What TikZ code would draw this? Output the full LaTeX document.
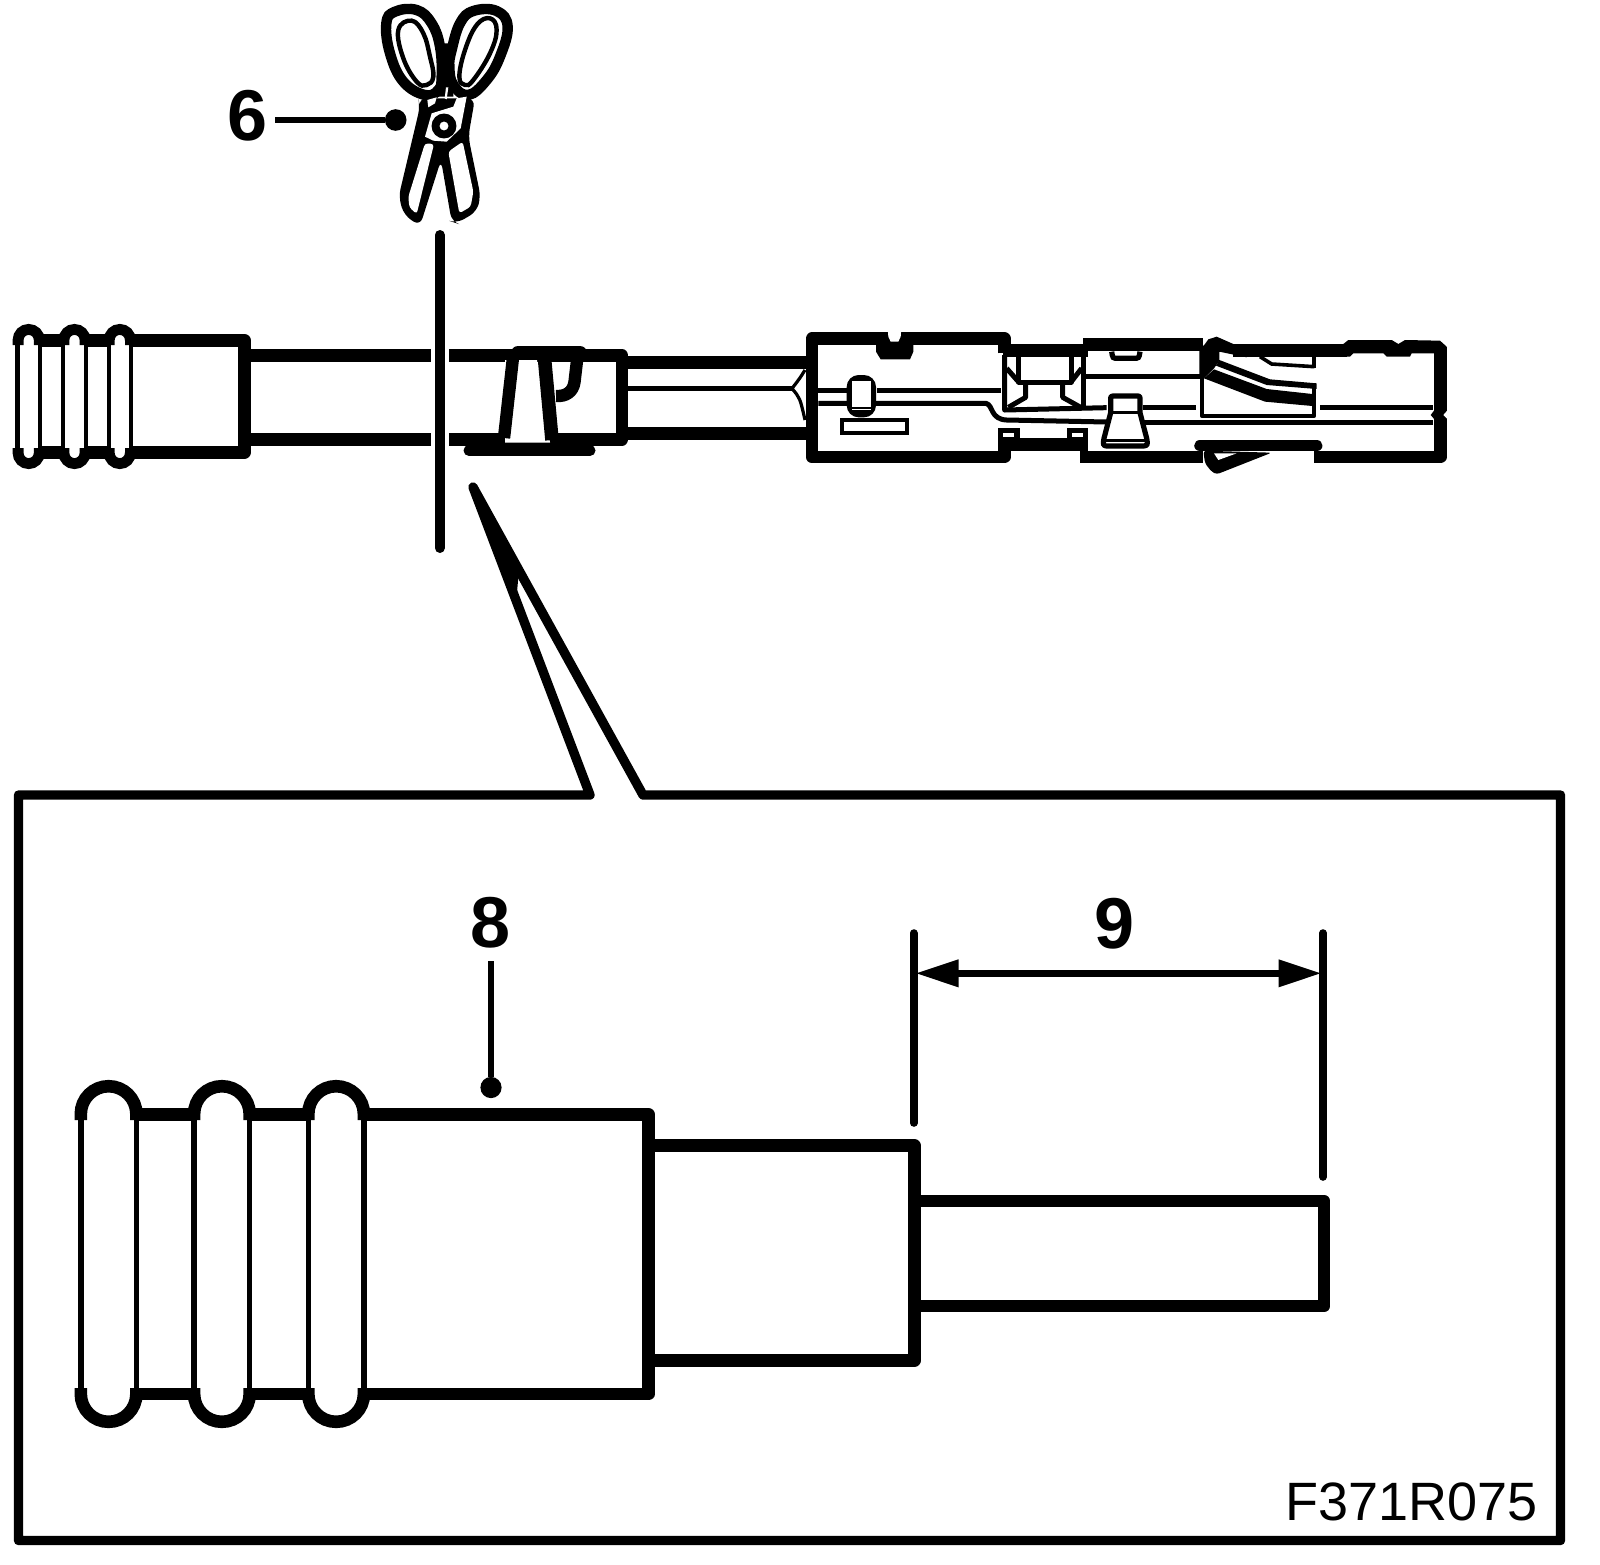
\documentclass[tikz,border=0pt]{standalone}
\usepackage{fontspec}
\setmainfont{Liberation Sans}
\usepackage{tikz}
\usetikzlibrary{arrows.meta}
\tikzset{
  heavyline/.style={line width=6.3pt,line join=round},
  frameline/.style={line width=4.7pt,line join=round},
  wireline/.style={line width=2.5pt,line join=round},
  hairline/.style={line width=2.1pt,line join=round},
  numlabel/.style={font=\fontsize{36}{36}\selectfont\bfseries,inner sep=0pt},
  leaderline/.style={line width=3.4pt},
  leaderdot/.style={circle,fill=black,inner sep=0pt,minimum size=10.8pt},
  dimline/.style={line width=3.8pt,line cap=round},
  dimarrow/.style={line width=3.4pt,{Triangle[length=21.5pt,width=13pt]}-{Triangle[length=21.5pt,width=13pt]}}
}
\begin{document}
\begin{tikzpicture}[x=0.5pt,y=-0.5pt]
\useasboundingbox (0,0) rectangle (1600,1564);
% frame with the wedge
\coordinate (wedgetip) at (473,487);
\draw[frameline] (wedgetip) -- (590,795) -- (18.5,795) -- (18.5,1540.5) -- (1560.5,1540.5) -- (1560.5,795) -- (643,795) -- cycle;
\fill[black] (wedgetip) -- (504.5,570) -- (517,592) -- (519,570) -- cycle;
% upper boot
\foreach \cx in {28.7,74.5,119.8} {
  \draw[line width=5.4pt] (\cx-10.6,345) -- (\cx-10.6,340) arc[start angle=180,end angle=360,radius=10.6] -- (\cx+10.6,345);
  \draw[line width=5.4pt] (\cx-10.6,448) -- (\cx-10.6,453) arc[start angle=180,end angle=0,radius=10.6] -- (\cx+10.6,448);
  \draw[line width=2.1pt] (\cx-11.2,340) -- (\cx-11.2,453);
  \draw[line width=2.1pt] (\cx+11.2,340) -- (\cx+11.2,453);
}
\draw[heavyline] (40,340.3) -- (64,340.3);
\draw[heavyline] (85,340.3) -- (109,340.3);
\draw[heavyline] (40,452.3) -- (64,452.3);
\draw[heavyline] (85,452.3) -- (109,452.3);
\draw[heavyline] (131,340.3) -- (244.5,340.3) -- (244.5,452.3) -- (131,452.3);
% cable left of the cut
\draw[heavyline] (250,355.5) -- (431,355.5);
\draw[heavyline] (250,439.3) -- (431,439.3);
% crimp right of the cut
\draw[heavyline] (449,355.5) -- (622,355.5) -- (622,439.3) -- (449,439.3);
\draw[line width=5.5pt,line cap=round] (469,450.5) -- (590,450.5);
\fill[white] (505,360) -- (537,360) -- (550,442.5) -- (505,442.5) -- cycle;
\draw[line width=6.2pt,line join=round] (513.5,353) -- (504,438);
\draw[line width=6.8pt,line join=round] (544,353) -- (552,440);
\draw[line width=7pt,line cap=round] (518,353) -- (580,353);
\draw[line width=6.2pt] (578,352) -- (574.5,382) .. controls (573,392) and (566,396.5) .. (556,396);
% cable to the terminal
\draw[heavyline] (628,362.5) -- (806,362.5);
\draw[heavyline] (628,433.3) -- (806,433.3);
\draw[wireline] (628,388.5) -- (792,388.5);
\draw[line width=1.6pt] (805,370) .. controls (800,378) .. (792,388.5) .. controls (800,398) .. (805,420);
% terminal, first sections
\begin{scope}[shift={(790,320)},scale=1/3]
  \draw[heavyline] (643,100) -- (643,56) -- (66,56) -- (66,411) -- (643,411) -- (643,365);
  \fill[black] (258,60) -- (370,60) -- (370,95) -- (360,118) -- (272,118) -- (258,95) -- cycle;
  \fill[white] (293,25) -- (334,25) -- (332,50) -- (325,65) -- (302,65) -- (295,50) -- cycle;
  \draw[heavyline] (640,91) -- (895,91);
  \draw[heavyline] (640,373) -- (895,373);
  \draw[wireline] (85,210) -- (170,210);
  \draw[wireline] (262,210) -- (632,210);
  \draw[wireline] (85,250) -- (588,250) .. controls (610,255) and (600,298) .. (650,300) -- (950,306);
  % latch window
  \fill[black,rounded corners=6pt] (170,165) rectangle (258,292);
  \fill[white] (186,182) rectangle (242,262);
  \fill[white] (186,267) rectangle (242,270);
  \draw[line width=2pt] (156,301) rectangle (350,339);
  % middle cage
  \draw[wireline] (644,105) -- (644,270) -- (950,263);
  \draw[wireline] (880,105) -- (880,270);
  \draw[wireline] (686,105) -- (686,186) -- (843,186) -- (843,105);
  \draw[wireline] (650,145) -- (686,186);
  \draw[wireline] (875,145) -- (843,186);
  \draw[wireline] (707,190) -- (707,232) -- (655,262);
  \draw[wireline] (818,190) -- (818,232) -- (872,262);
  % bottom tabs
  \fill[black] (625,323) rectangle (690,365);
  \fill[white] (640,338) rectangle (672,350);
  \fill[black] (830,323) rectangle (895,365);
  \fill[white] (845,338) rectangle (878,350);
\end{scope}
% terminal, contact end
\begin{scope}[shift={(1090,320)},scale=1/3]
  \draw[heavyline] (-20,73) -- (340,73);
  \draw[heavyline] (-30,411) -- (340,411);
  \draw[heavyline] (430,91) -- (770,91);
  \fill[black] (760,72) -- (775,60) -- (905,60) -- (925,72) -- (945,60) -- (1050,62) -- (1070,80) -- (1070,100) -- (965,100) -- (960,110) -- (890,110) -- (880,100) -- (790,100) -- (780,110) -- (760,110) -- cycle;
  \draw[heavyline] (1051,80) -- (1051,411) -- (672,411);
  \fill[black] (1035,268) -- (1022,285) -- (1035,300) -- cycle;
  \fill[white] (1075,268) -- (1060,285) -- (1075,300) -- cycle;
  \draw[line width=2.6pt] (65,95) .. controls (68,115) .. (85,115) -- (130,115) .. controls (147,115) .. (150,95);
  \draw[wireline] (-12,169) -- (330,169);
  \draw[wireline] (160,263) -- (318,263);
  \draw[wireline] (690,263) -- (1030,263);
  \draw[wireline] (160,306) -- (1030,306);
  % contact spring
  \draw[hairline] (335,92) -- (335,287) -- (673,287) -- (673,190);
  \draw[hairline] (673,110) -- (673,145);
  \fill[black] (345,72) -- (355,58) -- (380,50) -- (430,72) -- (430,92) -- (470,112) -- (388,95) -- (388,122) -- (372,145) -- (342,175) -- (328,170) -- (328,90) -- cycle;
  \fill[black] (388,120) -- (540,178) -- (680,190) -- (680,207) -- (530,195) -- (378,137) -- cycle;
  \fill[black] (372,148) -- (530,207) -- (667,222) -- (667,258) -- (525,245) -- (342,175) -- cycle;
  \draw[line width=1.8pt] (510,110) -- (545,132) -- (673,140);
  % pin
  \draw[line width=2.6pt,fill=white,line join=round] (62,278) -- (62,240) .. controls (62,228) .. (75,228) -- (138,228) .. controls (150,228) .. (150,240) -- (150,278) -- (170,355) .. controls (174,378) .. (150,378) -- (60,378) .. controls (38,378) .. (42,355) -- cycle;
  \draw[line width=1.6pt] (62,277) -- (150,277);
  \draw[line width=1.6pt] (45,362) -- (168,362);
  % latch below
  \fill[black,rounded corners=1.5pt] (340,392) -- (345,430) -- (365,455) -- (380,463) -- (545,398) -- cycle;
  \draw[line width=5.8pt,line cap=round] (330,377) -- (680,377);
  \fill[white] (372,400) -- (385,420) -- (440,400) -- cycle;
\end{scope}
% scissors
\begin{scope}[shift={(340,0)},scale=1/3]
  \fill[black,rounded corners=4pt] (235,295) -- (405,295) -- (385,410) -- (422,590) -- (410,635) -- (350,670) -- (335,665) -- (303,480) -- (240,678) -- (192,645) -- (176,590) -- (240,320) -- cycle;
  \fill[white,rounded corners=1.5pt] (255,430) -- (282,432) -- (230,642) -- (208,622) -- (205,590) -- cycle;
  \fill[white,rounded corners=1.5pt] (325,455) -- (368,425) -- (400,575) -- (392,620) -- (358,640) -- cycle;
  \draw[line width=5.2pt,fill=white] plot[smooth cycle,tension=0.7] coordinates {(255,285) (190,245) (150,160) (139,70) (165,35) (230,30) (275,70) (300,140) (305,230) (295,270)};
  \draw[line width=2.2pt,fill=white] plot[smooth cycle,tension=0.7] coordinates {(175,90) (215,62) (250,100) (270,170) (280,230) (260,255) (230,245) (190,175)};
  \draw[line width=5.2pt,fill=white] plot[smooth cycle,tension=0.7] coordinates {(335,150) (360,70) (400,33) (470,33) (503,80) (480,170) (440,240) (385,285) (340,255) (328,200)};
  \draw[line width=2.2pt,fill=white] plot[smooth cycle,tension=0.7] coordinates {(375,150) (410,75) (450,55) (470,90) (450,160) (400,240) (375,255) (358,230)};
  \fill[black] (300,130) -- (335,130) -- (340,290) -- (295,290) -- cycle;
  \fill[white] (262,300) -- (290,292) -- (285,310) -- (265,322) -- cycle;
  \fill[white] (318,262) -- (325,262) -- (320,298) -- (314,295) -- cycle;
  \fill[white] (255,410) -- (275,340) -- (340,320) -- (350,295) -- (380,290) -- (362,385) -- (320,425) -- (280,422) -- cycle;
  \draw[line width=3.4pt] (312,378) circle (27);
  \draw[line width=1pt] (312,378) circle (17);
\end{scope}
% cut line
\coordinate (cuttop) at (439.8,235);
\coordinate (cutbottom) at (439.8,548);
\draw[line width=5pt,line cap=round] (cuttop) -- (cutbottom);
% label 6
\node[numlabel] (labelsix) at (248,116) {6};
\node[leaderdot] (dotsix) at (395.7,120) {};
\draw[leaderline] (275,120) -- (dotsix);
% lower boot
\foreach \cx in {108.6,221.9,336.1} {
  \draw[line width=6.3pt] (\cx-27.8,1120) -- (\cx-27.8,1114) arc[start angle=180,end angle=360,radius=27.8] -- (\cx+27.8,1120);
  \draw[line width=6.3pt] (\cx-27.8,1388) -- (\cx-27.8,1394) arc[start angle=180,end angle=0,radius=27.8] -- (\cx+27.8,1388);
  \draw[line width=2.7pt] (\cx-27.8,1114) -- (\cx-27.8,1394);
  \draw[line width=2.7pt] (\cx+27.8,1114) -- (\cx+27.8,1394);
}
\draw[heavyline] (136,1114.3) -- (194,1114.3);
\draw[heavyline] (250,1114.3) -- (308,1114.3);
\draw[heavyline] (136,1394) -- (194,1394);
\draw[heavyline] (250,1394) -- (308,1394);
\draw[heavyline] (364,1114.3) -- (648.5,1114.3) -- (648.5,1394) -- (364,1394);
% jacket and wire
\draw[heavyline] (655,1145.7) -- (914.5,1145.7) -- (914.5,1360.3) -- (655,1360.3);
\draw[heavyline] (920,1201) -- (1324,1201) -- (1324,1306) -- (920,1306);
% label 8
\node[numlabel] (labeleight) at (490.5,923) {8};
\node[leaderdot,minimum size=10.6pt] (doteight) at (491,1087.5) {};
\draw[leaderline] (doteight |- 0,961) -- (doteight);
% label 9 with the strip length
\coordinate (dimleft) at (913.7,933);
\coordinate (dimright) at (1323,933);
\draw[dimline] (dimleft) -- (913.7,1123);
\draw[dimline] (dimright) -- (1323,1177);
\draw[dimarrow] (915.5,973.3) -- (1321.5,973.3);
\node[numlabel] (labelnine) at (1115,924) {9};
% drawing number
\node[font=\fontsize{27}{27}\selectfont,inner sep=0pt,anchor=base east] (drawno) at (1538,1520) {F371R075};
\end{tikzpicture}
\end{document}
